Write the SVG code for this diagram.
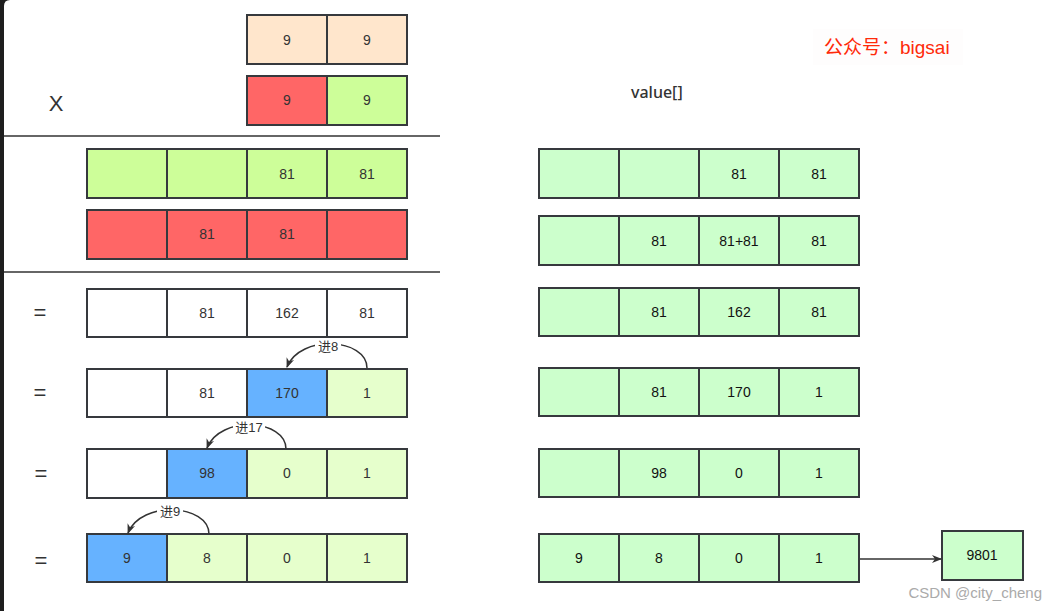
<svg xmlns="http://www.w3.org/2000/svg" width="1057" height="611" viewBox="0 0 1057 611">
<defs>
<style>
.c{stroke:#36393d;stroke-width:2}
.t{font-family:"Liberation Sans",Arial,sans-serif;font-size:14px;fill:#333;text-anchor:middle;dominant-baseline:central}
.r{font-family:"Liberation Sans",Arial,sans-serif;font-size:14px;fill:#111;text-anchor:middle;dominant-baseline:central}
.pe{fill:#ffe6cc}.rd{fill:#ff6666}.lg{fill:#cdfe99}.bl{fill:#66b2ff}.pg{fill:#e6ffcc}.w{fill:#ffffff}.gr{fill:#ccffcc}
.sym{font-family:"Liberation Sans",Arial,sans-serif;font-size:22px;fill:#333;text-anchor:middle;dominant-baseline:central}
.edge{fill:none;stroke:#333;stroke-width:1.5}
.lbl{font-family:"Liberation Sans","Noto Sans CJK SC",sans-serif;font-size:13px;fill:#333;text-anchor:middle;dominant-baseline:central}
</style>
<marker id="ah" markerWidth="10" markerHeight="10" refX="9" refY="5" orient="auto" markerUnits="userSpaceOnUse">
<path d="M0,1 L10,5 L0,9 L3,5 Z" fill="#333"/>
</marker>
</defs>
<rect x="0" y="0" width="1057" height="611" fill="#1e1e1e"/>
<path d="M10,0 H1057 V611 H4 V6 Q4,0 10,0 Z" fill="#ffffff"/>
<g id="separators">
<line x1="4" y1="136" x2="440" y2="136" stroke="#333" stroke-width="1.5"/>
<line x1="4" y1="272" x2="440" y2="272" stroke="#333" stroke-width="1.5"/>
</g>
<g id="symbols">
<text class="sym" x="56" y="103">X</text>
<text class="sym" x="40" y="312">=</text>
<text class="sym" x="40" y="392">=</text>
<text class="sym" x="41" y="473">=</text>
<text class="sym" x="41" y="560">=</text>
</g>
<g id="title">
<rect x="813" y="29" width="150" height="36" fill="#fefdfd"/>
<text x="824" y="47" font-family="'Liberation Sans','Noto Sans CJK SC',sans-serif" font-size="19" fill="#ff2a0a" dominant-baseline="central">公众号：bigsai</text>
<text x="631" y="92" font-family="'Noto Sans','Liberation Sans',sans-serif" font-size="16" fill="#333" font-weight="500" dominant-baseline="central">value[]</text>
</g>
<g id="row-a">
<rect class="c pe" x="247" y="15" width="80" height="49"/><text class="t" x="287" y="40">9</text>
<rect class="c pe" x="327" y="15" width="80" height="49"/><text class="t" x="367" y="40">9</text>
</g>
<g id="row-b">
<rect class="c rd" x="247" y="76" width="80" height="49"/><text class="t" x="287" y="100">9</text>
<rect class="c lg" x="327" y="76" width="80" height="49"/><text class="t" x="367" y="100">9</text>
</g>
<g id="row-c">
<rect class="c lg" x="87" y="149" width="80" height="49"/>
<rect class="c lg" x="167" y="149" width="80" height="49"/>
<rect class="c lg" x="247" y="149" width="80" height="49"/><text class="t" x="287" y="174">81</text>
<rect class="c lg" x="327" y="149" width="80" height="49"/><text class="t" x="367" y="174">81</text>
</g>
<g id="row-d">
<rect class="c rd" x="87" y="210" width="80" height="49"/>
<rect class="c rd" x="167" y="210" width="80" height="49"/><text class="t" x="207" y="234">81</text>
<rect class="c rd" x="247" y="210" width="80" height="49"/><text class="t" x="287" y="234">81</text>
<rect class="c rd" x="327" y="210" width="80" height="49"/>
</g>
<g id="row-e">
<rect class="c w" x="87" y="289" width="80" height="48"/>
<rect class="c w" x="167" y="289" width="80" height="48"/><text class="t" x="207" y="313">81</text>
<rect class="c w" x="247" y="289" width="80" height="48"/><text class="t" x="287" y="313">162</text>
<rect class="c w" x="327" y="289" width="80" height="48"/><text class="t" x="367" y="313">81</text>
</g>
<g id="row-f">
<rect class="c w" x="87" y="369" width="80" height="48"/>
<rect class="c w" x="167" y="369" width="80" height="48"/><text class="t" x="207" y="393">81</text>
<rect class="c bl" x="247" y="369" width="80" height="48"/><text class="t" x="287" y="393">170</text>
<rect class="c pg" x="327" y="369" width="80" height="48"/><text class="t" x="367" y="393">1</text>
</g>
<g id="row-g">
<rect class="c w" x="87" y="449" width="80" height="49"/>
<rect class="c bl" x="167" y="449" width="80" height="49"/><text class="t" x="207" y="473">98</text>
<rect class="c pg" x="247" y="449" width="80" height="49"/><text class="t" x="287" y="473">0</text>
<rect class="c pg" x="327" y="449" width="80" height="49"/><text class="t" x="367" y="473">1</text>
</g>
<g id="row-h">
<rect class="c bl" x="87" y="534" width="80" height="48"/><text class="t" x="127" y="558">9</text>
<rect class="c pg" x="167" y="534" width="80" height="48"/><text class="t" x="207" y="558">8</text>
<rect class="c pg" x="247" y="534" width="80" height="48"/><text class="t" x="287" y="558">0</text>
<rect class="c pg" x="327" y="534" width="80" height="48"/><text class="t" x="367" y="558">1</text>
</g>
<g id="value-1">
<rect class="c gr" x="539" y="149" width="80" height="49"/>
<rect class="c gr" x="619" y="149" width="80" height="49"/>
<rect class="c gr" x="699" y="149" width="80" height="49"/><text class="r" x="739" y="174">81</text>
<rect class="c gr" x="779" y="149" width="80" height="49"/><text class="r" x="819" y="174">81</text>
</g>
<g id="value-2">
<rect class="c gr" x="539" y="216" width="80" height="49"/>
<rect class="c gr" x="619" y="216" width="80" height="49"/><text class="r" x="659" y="241">81</text>
<rect class="c gr" x="699" y="216" width="80" height="49"/><text class="r" x="739" y="241">81+81</text>
<rect class="c gr" x="779" y="216" width="80" height="49"/><text class="r" x="819" y="241">81</text>
</g>
<g id="value-3">
<rect class="c gr" x="539" y="288" width="80" height="48"/>
<rect class="c gr" x="619" y="288" width="80" height="48"/><text class="r" x="659" y="312">81</text>
<rect class="c gr" x="699" y="288" width="80" height="48"/><text class="r" x="739" y="312">162</text>
<rect class="c gr" x="779" y="288" width="80" height="48"/><text class="r" x="819" y="312">81</text>
</g>
<g id="value-4">
<rect class="c gr" x="539" y="368" width="80" height="48"/>
<rect class="c gr" x="619" y="368" width="80" height="48"/><text class="r" x="659" y="392">81</text>
<rect class="c gr" x="699" y="368" width="80" height="48"/><text class="r" x="739" y="392">170</text>
<rect class="c gr" x="779" y="368" width="80" height="48"/><text class="r" x="819" y="392">1</text>
</g>
<g id="value-5">
<rect class="c gr" x="539" y="449" width="80" height="48"/>
<rect class="c gr" x="619" y="449" width="80" height="48"/><text class="r" x="659" y="473">98</text>
<rect class="c gr" x="699" y="449" width="80" height="48"/><text class="r" x="739" y="473">0</text>
<rect class="c gr" x="779" y="449" width="80" height="48"/><text class="r" x="819" y="473">1</text>
</g>
<g id="value-6">
<rect class="c gr" x="539" y="534" width="80" height="48"/><text class="r" x="579" y="558">9</text>
<rect class="c gr" x="619" y="534" width="80" height="48"/><text class="r" x="659" y="558">8</text>
<rect class="c gr" x="699" y="534" width="80" height="48"/><text class="r" x="739" y="558">0</text>
<rect class="c gr" x="779" y="534" width="80" height="48"/><text class="r" x="819" y="558">1</text>
</g>
<g id="result">
<rect class="c gr" x="942" y="531" width="81" height="49"/><text class="r" x="982" y="555">9801</text>
</g>
<g id="connectors">
<path class="edge" d="M367,368 C367,338 300,334 287,367" marker-end="url(#ah)"/>
<path class="edge" d="M286,449 C286,419 220,415 207,448" marker-end="url(#ah)"/>
<path class="edge" d="M209,534 C209,504 141,500 128,533" marker-end="url(#ah)"/>
<line class="edge" x1="860" y1="559" x2="941" y2="559" marker-end="url(#ah)"/>
<rect x="315" y="338" width="26" height="16" fill="#fff"/>
<text class="lbl" x="328" y="346">进8</text>
<rect x="233" y="419" width="32" height="16" fill="#fff"/>
<text class="lbl" x="249" y="427">进17</text>
<rect x="157" y="503" width="26" height="16" fill="#fff"/>
<text class="lbl" x="170" y="511">进9</text>
</g>
<text x="1042" y="592" font-family="'Liberation Sans',Arial,sans-serif" font-size="15" fill="#aaa" text-anchor="end" dominant-baseline="central">CSDN @city_cheng</text>
</svg>
